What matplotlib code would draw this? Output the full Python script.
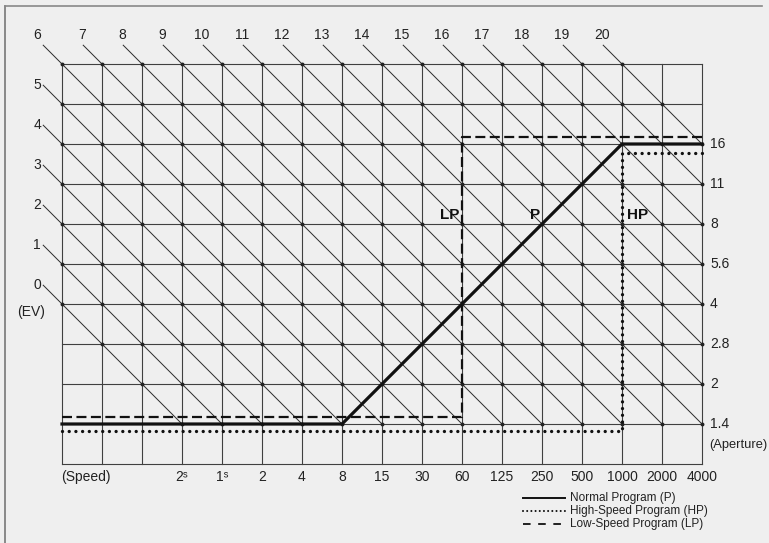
import matplotlib
matplotlib.use("Agg")
import matplotlib.pyplot as plt
from matplotlib.lines import Line2D

plt.rcParams['font.family'] = ['Liberation Sans', 'DejaVu Sans']

# grille : 16 colonnes (vitesses), 10 rangees (ouvertures)
n_cols = 16
n_rows = 10

speed_labels = ["2ˢ", "1ˢ", "2", "4", "8", "15", "30", "60", "125", "250", "500", "1000", "2000", "4000"]
speed_cols = [3, 4, 5, 6, 7, 8, 9, 10, 11, 12, 13, 14, 15, 16]

aperture_labels = ["1.4", "2", "2.8", "4", "5.6", "8", "11", "16"]
aperture_rows = [1, 2, 3, 4, 5, 6, 7, 8]

ev_values = list(range(0, 21))

# programmes (colonne, rangee)
p_cols = [0, 7, 14, 16]
p_rows = [1, 1, 8, 8]
hp_cols = [0, 14, 14, 16]
hp_rows = [0.83, 0.83, 7.78, 7.78]
lp_cols = [0, 10, 10, 16]
lp_rows = [1.17, 1.17, 8.17, 8.17]

bg = '#efefef'
fig = plt.figure(figsize=(7.69, 5.43), dpi=100, facecolor=bg)
ax = fig.add_axes([0, 0, 1, 1])
ax.set_facecolor(bg)
ax.set_xlim((0 - 62) / 40, (769 - 62) / 40)
ax.set_ylim((464 - 543) / 40, 464 / 40)
ax.axis('off')

# cadre
fig.add_artist(Line2D([5 / 769, 5 / 769], [0, 1 - 6 / 543], transform=fig.transFigure, color='#777777', lw=1.2))
fig.add_artist(Line2D([5 / 769, 762 / 769], [1 - 6 / 543, 1 - 6 / 543], transform=fig.transFigure, color='#888888', lw=1.2))

grid_col = '#404040'
for c in range(n_cols + 1):
    ax.plot([c, c], [0, n_rows], color=grid_col, lw=0.8, zorder=1)
for r in range(n_rows + 1):
    ax.plot([0, n_cols], [r, r], color=grid_col, lw=0.8, zorder=1)

# lignes EV
ext = 0.47
for ev in ev_values:
    if ev <= 5:
        c0, r0 = 0, ev + 4
    else:
        c0, r0 = ev - 6, n_rows
    if ev + 3 <= n_cols:
        c1, r1 = ev + 3, 1
    else:
        c1, r1 = n_cols, ev + 4 - n_cols
    ax.plot([c0 - ext, c1], [r0 + ext, r1], color='#2a2a2a', lw=0.7, zorder=2)
    pts_c = list(range(c0, c1 + 1))
    pts_r = [ev + 4 - c for c in pts_c]
    ax.plot(pts_c, pts_r, ls='none', marker='o', ms=1.8, color='#222222', zorder=2)
    if ev <= 5:
        ax.text(-0.62, r0 + 0.48, str(ev), ha='center', va='center', fontsize=10, color='#222222')
    elif ev == 6:
        ax.text(-0.62, 10.72, str(ev), ha='center', va='center', fontsize=10, color='#222222')
    else:
        ax.text(c0 - 0.5, 10.72, str(ev), ha='center', va='center', fontsize=10, color='#222222')

ax.text(-0.78, 3.8, "(EV)", ha='center', va='center', fontsize=10, color='#222222')

for lab, r in zip(aperture_labels, aperture_rows):
    ax.text(16.2, r, lab, ha='left', va='center', fontsize=10, color='#222222')
ax.text(16.17, 0.48, "(Aperture)", ha='left', va='center', fontsize=9.3, color='#222222')

for lab, c in zip(speed_labels, speed_cols):
    ax.text(c, -0.33, lab, ha='center', va='center', fontsize=10, color='#222222')
ax.text(-0.02, -0.33, "(Speed)", ha='left', va='center', fontsize=10, color='#222222')

# programmes
ax.plot(lp_cols, lp_rows, color='#111111', lw=1.6, ls=(0, (4.5, 2)), zorder=4)
ax.plot(hp_cols, hp_rows, color='#111111', lw=2.4, ls=(0, (0.01, 2.0)), dash_capstyle='round', zorder=4)
ax.plot(p_cols, p_rows, color='#111111', lw=2.3, solid_joinstyle='miter', zorder=5)

ax.text(9.93, 6.22, "LP", ha='right', va='center', fontsize=11, fontweight='bold', color='#111111')
ax.text(11.83, 6.22, "P", ha='center', va='center', fontsize=11, fontweight='bold', color='#111111')
ax.text(14.12, 6.22, "HP", ha='left', va='center', fontsize=11, fontweight='bold', color='#111111')

# legende
leg_x = [11.52, 12.58]
leg_rows = [-0.85, -1.17, -1.49]
leg_txt = ["Normal Program (P)", "High-Speed Program (HP)", "Low-Speed Program (LP)"]
ax.plot(leg_x, [leg_rows[0]] * 2, color='#111111', lw=1.4)
ax.plot(leg_x, [leg_rows[1]] * 2, color='#111111', lw=1.5, ls=(0, (0.01, 2.0)), dash_capstyle='round')
ax.plot(leg_x, [leg_rows[2]] * 2, color='#111111', lw=1.3, ls=(0, (4.2, 4.2)))
for t, r in zip(leg_txt, leg_rows):
    ax.text(12.7, r, t, ha='left', va='center', fontsize=8.5, color='#222222')

fig.savefig("out.png", dpi=100, facecolor=bg)
